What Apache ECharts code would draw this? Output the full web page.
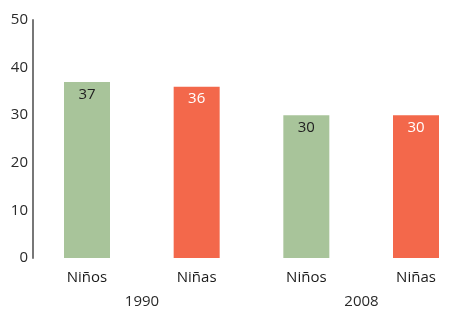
<!DOCTYPE html>
<html>
<head>
<meta charset="utf-8">
<script src="https://cdn.jsdelivr.net/npm/echarts@6/dist/echarts.min.js"></script>
<style>
  html, body { margin: 0; padding: 0; background: #fff; }
  #chart { width: 465px; height: 315px; }
</style>
</head>
<body>
<div id="chart"></div>
<script>
// datos
var categorias = ['Niños', 'Niñas', 'Niños', 'Niñas'];
var valores = [37, 36, 30, 30];
var anios = ['1990', '2008'];
var colores = ['#a8c49a', '#f3684b', '#a8c49a', '#f3684b'];
var coloresTexto = ['#222', '#fff', '#222', '#fff'];

var fuente = 'Open Sans';
var chart = echarts.init(document.getElementById('chart'));

var barras = valores.map(function (v, i) {
    return {
        value: v,
        itemStyle: { color: colores[i] },
        label: { color: coloresTexto[i] }
    };
});

chart.setOption({
    animation: false,
    grid: [
        { left: 87, top: 20, width: 329, bottom: 57 },
        // rejilla auxiliar para los años (centrados entre cada pareja)
        { left: 142, top: 20, width: 219.5, bottom: 57 }
    ],
    xAxis: [
        {
            type: 'category',
            gridIndex: 0,
            data: categorias,
            boundaryGap: false,
            axisLine: { show: false },
            axisTick: { show: false },
            axisLabel: { color: '#1a1a1a', fontSize: 15, fontFamily: fuente, margin: 12 }
        },
        {
            type: 'category',
            gridIndex: 1,
            data: anios,
            boundaryGap: false,
            offset: 23,
            axisLine: { show: false },
            axisTick: { show: false },
            axisLabel: { color: '#2a2a2a', fontSize: 15, fontFamily: fuente, margin: 13 }
        }
    ],
    yAxis: [
        {
            type: 'value',
            gridIndex: 0,
            min: 0,
            max: 50,
            interval: 10,
            offset: 54,
            axisLine: { show: true, lineStyle: { color: '#777', width: 2 } },
            axisTick: { show: false },
            splitLine: { show: false },
            axisLabel: { color: '#2a2a2a', fontSize: 15, fontFamily: fuente, margin: 5 }
        },
        {
            type: 'value',
            gridIndex: 1,
            min: 0,
            max: 50,
            show: false
        }
    ],
    series: [
        {
            type: 'bar',
            xAxisIndex: 0,
            yAxisIndex: 0,
            barWidth: 46,
            clip: false,
            data: barras,
            label: {
                show: true,
                position: 'insideTop',
                distance: 5,
                fontSize: 15,
                fontFamily: fuente
            }
        }
    ]
});
</script>
</body>
</html>
